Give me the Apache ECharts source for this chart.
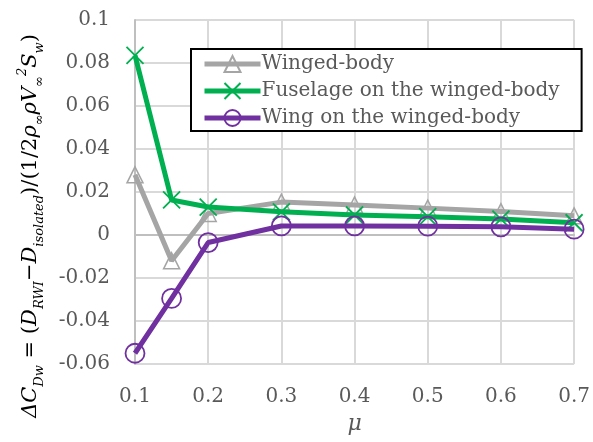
<!DOCTYPE html>
<html>
<head>
<meta charset="utf-8">
<script src="https://cdn.jsdelivr.net/npm/echarts@6/dist/echarts.min.js"></script>
<style>
  html, body { margin: 0; padding: 0; background: #fff; }
  #chart { width: 593px; height: 442px; }
</style>
</head>
<body>
<div id="chart"></div>
<script>
// Advance ratio values along the x axis
const mu = [0.1, 0.15, 0.2, 0.3, 0.4, 0.5, 0.6, 0.7];

// Drag increment coefficient for each configuration
const wingedBody = [0.028, -0.012, 0.010, 0.0153, 0.014, 0.0125, 0.0109, 0.0089];
const fuselageOnWB = [0.0835, 0.0163, 0.013, 0.0108, 0.0093, 0.0085, 0.0074, 0.0057];
const wingOnWB = [-0.055, -0.0295, -0.0035, 0.0042, 0.0042, 0.0041, 0.0038, 0.0027];

const seriesNames = ['Winged-body', 'Fuselage on the winged-body', 'Wing on the winged-body'];

const SERIF = '"DejaVu Serif", "Liberation Serif", serif';
const TEXT = '#595959';

function pairs(ys) { return mu.map((x, i) => [x, ys[i]]); }

const chart = echarts.init(document.getElementById('chart'), null, { renderer: 'canvas' });

// rich text pieces for the y-axis title: italic symbols, subscripts, superscript, upright glyphs
const baseRich = { fontFamily: SERIF, fontStyle: 'italic', fontSize: 21, lineHeight: 30, color: TEXT };
const subRich = { fontFamily: SERIF, fontStyle: 'italic', fontSize: 13, lineHeight: 14, verticalAlign: 'bottom', color: TEXT };
const supRich = { fontFamily: SERIF, fontStyle: 'italic', fontSize: 13, lineHeight: 20, verticalAlign: 'top', color: TEXT };
const upRich = { fontFamily: SERIF, fontSize: 21, lineHeight: 30, color: TEXT };

const yTitle =
  '{b|ΔC}{s|Dw}{u| = (}{b|D}{s|RWI}{u|−}{b|D}{s|isolated}{u|)/(1/2}{b|ρ}{s|∞}{b|ρV}{s|∞}{p|2}{b|S}{s|w}{u|)}';

chart.setOption({
  animation: false,
  backgroundColor: '#ffffff',
  grid: { left: 135, right: 17, top: 20, bottom: 78 },
  xAxis: {
    type: 'value',
    min: 0.1, max: 0.7, interval: 0.1,
    name: 'μ',
    nameLocation: 'middle',
    nameGap: 49,
    nameTextStyle: { fontFamily: SERIF, fontStyle: 'italic', fontSize: 22, color: TEXT },
    axisLine: { show: true, lineStyle: { color: '#BFBFBF', width: 2 } },
    axisTick: { show: false },
    axisLabel: { fontFamily: SERIF, fontSize: 20, color: TEXT, margin: 23 },
    splitLine: { show: true, lineStyle: { color: '#D9D9D9', width: 2 } }
  },
  yAxis: {
    type: 'value',
    min: -0.06, max: 0.1, interval: 0.02,
    axisLine: { show: true, onZero: false, lineStyle: { color: '#BFBFBF', width: 2 } },
    axisTick: { show: false },
    axisLabel: { fontFamily: SERIF, fontSize: 20, color: TEXT, margin: 25 },
    splitLine: { show: true, lineStyle: { color: '#D9D9D9', width: 2 } }
  },
  legend: {
    orient: 'vertical',
    left: 191, top: 49,
    padding: [5, 22, 3, 11],
    itemGap: 7,
    itemWidth: 56, itemHeight: 20,
    backgroundColor: '#ffffff',
    borderColor: '#000000', borderWidth: 2, borderRadius: 0,
    lineStyle: { width: 5 },
    textStyle: { fontFamily: SERIF, fontSize: 20, color: TEXT, padding: [0, 0, 0, -4] },
    data: seriesNames
  },
  graphic: [{
    type: 'text',
    x: 31, y: 226,
    rotation: Math.PI / 2,
    style: {
      text: yTitle,
      align: 'center',
      verticalAlign: 'middle',
      rich: { b: baseRich, s: subRich, p: supRich, u: upRich }
    }
  }],
  series: [
    {
      name: seriesNames[0], type: 'line', data: pairs(wingedBody),
      symbol: 'triangle', symbolSize: 16,
      lineStyle: { color: '#A5A5A5', width: 5 },
      itemStyle: { color: 'rgba(255,255,255,0)', borderColor: '#A5A5A5', borderWidth: 1.5 },
      z: 2
    },
    {
      name: seriesNames[1], type: 'line', data: pairs(fuselageOnWB),
      symbol: 'path://M0,0L10,10M10,0L0,10', symbolSize: 17,
      lineStyle: { color: '#00B050', width: 5 },
      itemStyle: { color: 'rgba(255,255,255,0)', borderColor: '#00B050', borderWidth: 1.8 },
      z: 3
    },
    {
      name: seriesNames[2], type: 'line', data: pairs(wingOnWB),
      symbol: 'circle', symbolSize: 19,
      lineStyle: { color: '#7030A0', width: 5 },
      itemStyle: { color: 'rgba(255,255,255,0)', borderColor: '#7030A0', borderWidth: 1.8 },
      z: 4
    }
  ]
});
</script>
</body>
</html>
